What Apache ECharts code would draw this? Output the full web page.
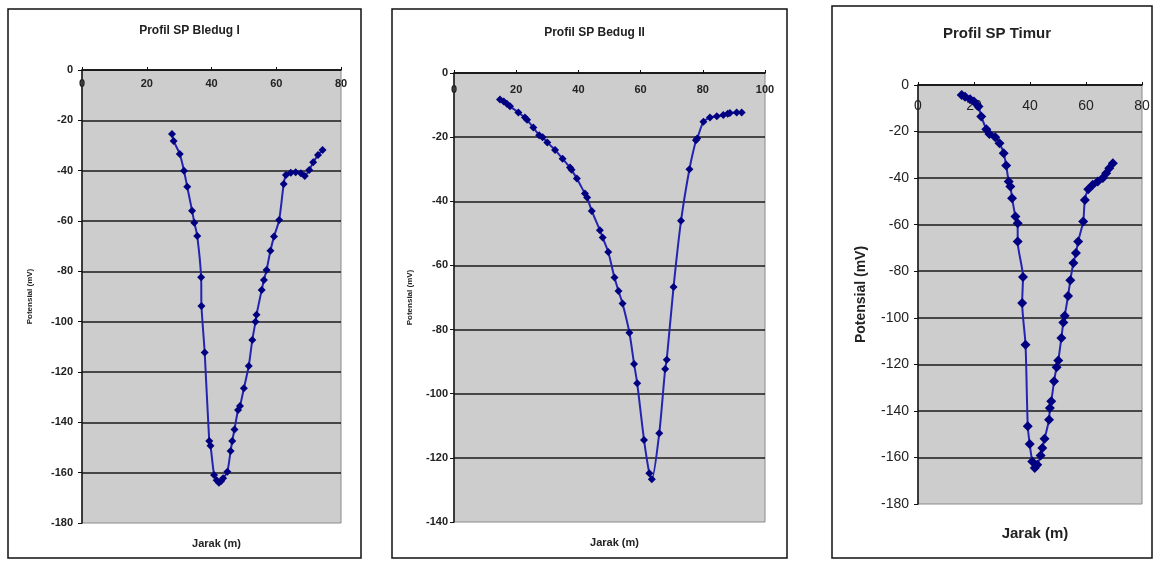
<!DOCTYPE html>
<html>
<head>
<meta charset="utf-8">
<title>Profil SP</title>
<script src="https://cdn.jsdelivr.net/npm/echarts@6/dist/echarts.min.js"></script>
<style>
  html, body { margin: 0; padding: 0; background: #fff; }
  #chart { width: 1155px; height: 561px; }
</style>
</head>
<body>
<div id="chart"></div>
<script>
// judul tiap grafik
const titles = ['Profil SP Bledug I', 'Profil SP Bedug II', 'Profil SP Timur']
const xName = 'Jarak (m)'
const yName = 'Potensial (mV)'

// batas sumbu (jarak m, potensial mV)
const xMax = [80, 100, 80]
const yMin = [-180, -140, -180]

// Profil SP Bledug I
const bledug1X = [27.8, 28.3, 30.2, 31.5, 32.5, 34.0, 34.7, 35.6, 36.8, 36.9, 37.9, 39.3, 39.7, 40.8, 41.6,
  42.3, 43.0, 43.6, 44.9, 45.9, 46.4, 47.1, 48.2, 48.8, 50.0, 51.5, 52.6, 53.6, 53.9, 55.5,
  56.2, 57.0, 58.2, 59.3, 60.9, 62.3, 63.0, 64.5, 66.0, 67.6, 68.8, 70.2, 71.4, 72.9, 74.3]
const bledug1Y = [-25.4, -28.2, -33.4, -40.0, -46.4, -55.9, -60.7, -66.0, -82.4, -93.8, -112.3, -147.4, -149.3, -160.9, -163.0,
  -164.0, -163.3, -162.2, -159.6, -151.4, -147.4, -142.8, -135.1, -133.5, -126.5, -117.6, -107.3, -100.0, -97.3, -87.4,
  -83.4, -79.5, -71.8, -66.2, -59.6, -45.3, -41.7, -40.8, -40.6, -41.0, -42.1, -39.7, -36.7, -33.8, -31.8]

// Profil SP Bedug II
const bedug2X = [14.8, 16.0, 17.0, 18.0, 20.7, 22.8, 23.5, 25.5, 27.4, 28.5, 30.0, 32.5, 34.9, 37.3, 37.8,
  39.5, 42.1, 42.8, 44.3, 46.9, 47.8, 49.6, 51.6, 52.9, 54.2, 56.4, 57.9, 58.9, 61.1, 62.8,
  63.6, 66.0, 67.9, 68.4, 70.6, 73.0, 75.7, 77.8, 78.2, 80.2, 82.3, 84.5, 86.6, 88.0, 88.7, 90.9, 92.5]
const bedug2Y = [-8.3, -8.9, -9.6, -10.4, -12.3, -13.9, -14.6, -17.0, -19.4, -20.0, -21.7, -24.0, -26.7, -29.5, -30.2,
  -32.9, -37.6, -38.8, -43.0, -49.0, -51.3, -55.8, -63.8, -68.0, -71.9, -81.0, -90.7, -96.7, -114.4, -124.8,
  -126.7, -112.3, -92.3, -89.4, -66.7, -46.1, -30.0, -21.0, -20.4, -15.2, -13.9, -13.5, -13.1, -12.7, -12.5, -12.3, -12.3]

// Profil SP Timur
const timurX = [15.6, 16.8, 18.6, 20.0, 21.6, 22.6, 24.4, 25.5, 27.6, 29.1, 30.6, 31.5, 32.4, 33.0, 33.6,
  34.8, 35.6, 35.6, 37.5, 37.2, 38.4, 39.2, 39.9, 40.8, 41.7, 42.6, 43.8, 44.4, 45.2, 46.8,
  47.1, 47.6, 48.6, 49.5, 50.1, 51.2, 51.9, 52.4, 53.6, 54.4, 55.5, 56.4, 57.2, 59.0, 59.6,
  60.8, 62.4, 64.2, 66.0, 67.2, 68.3, 69.6]
const timurY = [-4.3, -5.0, -6.1, -7.1, -9.2, -13.5, -19.0, -21.0, -22.4, -25.0, -29.3, -34.6, -41.5, -43.6, -48.6,
  -56.5, -59.4, -67.2, -82.5, -93.7, -111.6, -146.6, -154.2, -161.7, -164.5, -163.1, -159.2, -155.9, -152.0, -143.8,
  -138.8, -135.9, -127.3, -121.2, -118.3, -108.7, -102.0, -99.1, -90.6, -83.9, -76.5, -72.2, -67.2, -58.6, -49.4,
  -44.8, -42.9, -41.5, -40.0, -37.9, -35.8, -33.6]

const seriesX = [bledug1X, bedug2X, timurX]
const seriesY = [bledug1Y, bedug2Y, timurY]

// tata letak tiap panel (bingkai luar + area plot)
const frames = [
  { x: 8, y: 9, w: 353, h: 549 },
  { x: 392, y: 9, w: 395, h: 549 },
  { x: 832, y: 6, w: 320, h: 552 }
]
const grids = [
  { left: 82, top: 70, width: 259, height: 453 },
  { left: 454, top: 73, width: 311, height: 449 },
  { left: 918, top: 85, width: 224, height: 419 }
]
const looks = [
  { title: 12, tick: 11, xName: 11, yName: 8, bold: 'bold', titleY: 20, xNameY: 533, yGap: 48, xMargin: 8, yMargin: 9, sym: 8 },
  { title: 12, tick: 11, xName: 11, yName: 8, bold: 'bold', titleY: 22, xNameY: 532, yGap: 40, xMargin: 11, yMargin: 6, sym: 8 },
  { title: 15, tick: 14, xName: 15, yName: 14, bold: 'normal', titleY: 21, xNameY: 521, yGap: 50, xMargin: 14, yMargin: 9, sym: 10 }
]

const font = 'Liberation Sans, Arial, sans-serif'
const chart = echarts.init(document.getElementById('chart'))

const title = []
const xAxis = []
const yAxis = []
const series = []
const graphic = []

titles.forEach((t, i) => {
  const g = grids[i]
  const f = frames[i]
  const lk = looks[i]

  graphic.push({
    type: 'rect',
    shape: { x: f.x, y: f.y, width: f.w, height: f.h },
    style: { fill: null, stroke: '#111', lineWidth: 1.5 },
    silent: true
  })

  title.push({
    text: t,
    left: f.x + f.w / 2,
    top: lk.titleY,
    textAlign: 'center',
    textStyle: { fontFamily: font, fontSize: lk.title, fontWeight: 'bold', color: '#222' }
  })
  // judul sumbu X ada di bawah area plot
  title.push({
    text: xName,
    left: g.left + g.width / 2,
    top: lk.xNameY,
    textAlign: 'center',
    textStyle: { fontFamily: font, fontSize: lk.xName, fontWeight: 'bold', color: '#222' }
  })

  xAxis.push({
    type: 'value',
    gridIndex: i,
    position: 'top',
    min: 0,
    max: xMax[i],
    interval: 20,
    axisLine: { show: true, onZero: false, lineStyle: { color: '#111', width: 1.5 } },
    axisTick: { show: true, inside: false, length: 3, lineStyle: { color: '#111' } },
    axisLabel: {
      inside: true,
      margin: lk.xMargin,
      fontFamily: font,
      fontSize: lk.tick,
      fontWeight: lk.bold,
      color: '#222'
    },
    splitLine: { show: false }
  })

  yAxis.push({
    type: 'value',
    gridIndex: i,
    min: yMin[i],
    max: 0,
    interval: 20,
    name: yName,
    nameLocation: 'middle',
    nameGap: lk.yGap,
    nameTextStyle: { fontFamily: font, fontSize: lk.yName, fontWeight: 'bold', color: '#222' },
    axisLine: { show: true, onZero: false, lineStyle: { color: '#111', width: 1.5 } },
    axisTick: { show: true, length: 4, lineStyle: { color: '#111' } },
    axisLabel: {
      margin: lk.yMargin,
      fontFamily: font,
      fontSize: lk.tick,
      fontWeight: lk.bold,
      color: '#222'
    },
    splitLine: { show: true, showMinLine: false, lineStyle: { color: '#1a1a1a', width: 1.6 } }
  })

  series.push({
    name: t,
    type: 'line',
    xAxisIndex: i,
    yAxisIndex: i,
    data: seriesX[i].map((x, k) => [x, seriesY[i][k]]),
    smooth: 0.25,
    symbol: 'diamond',
    symbolSize: lk.sym,
    itemStyle: { color: '#000080' },
    lineStyle: { color: '#2424b0', width: 2 },
    animation: false,
    z: 5
  })
})

chart.setOption({
  animation: false,
  backgroundColor: '#fff',
  title,
  grid: grids.map(g => ({
    left: g.left,
    top: g.top,
    width: g.width,
    height: g.height,
    show: true,
    backgroundColor: '#cdcdcd',
    borderColor: '#8a8a8a',
    borderWidth: 1,
    outerBoundsMode: 'none'
  })),
  xAxis,
  yAxis,
  series,
  graphic
})
</script>
</body>
</html>
